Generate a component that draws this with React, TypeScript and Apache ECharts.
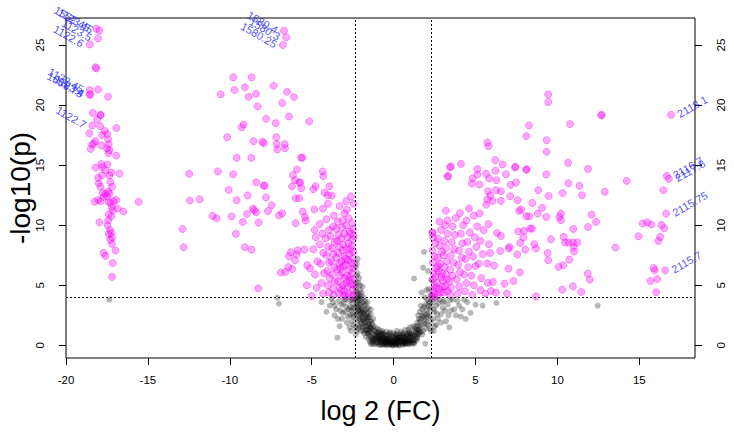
import React, { useEffect, useRef } from "react";
import * as echarts from "echarts";

const FONT = "'Liberation Sans', Arial, Helvetica, sans-serif";

const xTicks = [-20, -15, -10, -5, 0, 5, 10, 15];
const yTicks = [0, 5, 10, 15, 20, 25];
const fcCut = 2.32;
const pCut = 4;

// far-left group (log2 FC around -18)
const leftFar = [
  [-18.2, 23.15], [-18.15, 23.05], [-18.04, 21.3], [-17.43, 20.7], [-18.37, 19.35], [-17.9, 19.2], [-17.88, 19.15],
  [-18.1, 18.8], [-16.92, 18.1], [-17.92, 18.25], [-17.63, 17.85], [-17.49, 17.6], [-17.8, 17.5], [-18.57, 17.65],
  [-18.2, 17.0], [-18.41, 16.7], [-18.49, 16.35], [-18.3, 16.8], [-17.43, 17.15], [-17.39, 16.75], [-17.84, 16.65],
  [-17.49, 16.4], [-17.35, 16.25], [-17.41, 16.0], [-16.94, 15.8], [-17.84, 15.1], [-17.8, 14.85], [-18.2, 14.8],
  [-17.6, 14.6], [-17.47, 15.05], [-16.74, 14.3], [-17.23, 14.4], [-17.35, 14.15], [-17.8, 14.15], [-18.04, 13.95],
  [-17.29, 13.6], [-18.0, 13.5], [-17.9, 13.2], [-17.19, 13.2], [-17.76, 12.7], [-17.6, 12.6], [-17.43, 12.8],
  [-17.35, 12.65], [-17.7, 12.35], [-17.49, 12.4], [-18.25, 11.95], [-18.04, 12.1], [-17.88, 12.0], [-17.39, 11.95],
  [-17.29, 11.85], [-17.09, 12.0], [-16.94, 12.1], [-17.19, 11.5], [-16.86, 11.4], [-17.15, 11.25], [-16.5, 11.15],
  [-15.56, 11.95], [-17.39, 10.9], [-17.23, 10.75], [-17.43, 10.4], [-17.96, 10.25], [-17.47, 10.0], [-17.31, 9.6],
  [-17.25, 9.35], [-17.39, 9.25], [-17.19, 9.0], [-17.29, 8.8], [-17.19, 8.45], [-16.98, 7.9], [-17.7, 7.7],
  [-17.6, 7.45], [-17.15, 6.85], [-17.19, 5.7],
];

// scattered group between -13 and -4
const leftMid = [
  [-9.79, 22.31], [-8.67, 22.31], [-10.56, 20.89], [-9.71, 21.25], [-9.08, 21.48], [-8.85, 20.69], [-8.4, 20.94],
  [-7.32, 21.61], [-6.51, 21.11], [-6.08, 20.67], [-6.8, 20.17], [-8.3, 19.89], [-7.78, 18.86], [-7.2, 18.5],
  [-6.39, 19.06], [-5.15, 18.64], [-9.16, 18.39], [-9.28, 18.14], [-10.16, 17.33], [-8.55, 17.0], [-8.0, 16.94],
  [-7.93, 16.83], [-7.16, 17.33], [-7.14, 16.75], [-7.1, 16.31], [-6.65, 16.75], [-6.63, 16.42], [-9.58, 15.61],
  [-8.69, 15.61], [-5.65, 15.61], [-12.48, 14.28], [-10.73, 14.48], [-9.79, 14.25], [-5.9, 14.64], [-6.14, 14.17],
  [-6.02, 13.75], [-5.76, 13.58], [-5.7, 13.53], [-6.2, 13.23], [-5.64, 13.08], [-8.39, 13.58], [-7.93, 13.31],
  [-7.87, 13.28], [-10.07, 12.94], [-8.91, 12.48], [-7.79, 12.31], [-9.58, 12.08], [-7.44, 11.67], [-12.44, 12.06],
  [-11.83, 12.17], [-5.98, 12.25], [-5.76, 12.25], [-8.59, 11.39], [-8.51, 11.25], [-8.39, 11.08], [-8.95, 10.94],
  [-7.67, 11.19], [-11.05, 10.78], [-10.81, 10.58], [-9.89, 10.73], [-7.0, 10.81], [-6.8, 11.0], [-5.55, 11.14],
  [-5.41, 10.69], [-5.37, 10.39], [-9.2, 10.28], [-8.24, 10.22], [-5.98, 10.17], [-12.89, 9.69], [-9.63, 9.28],
  [-12.82, 8.17], [-9.08, 8.17], [-8.67, 7.97], [-8.26, 4.75], [-6.39, 7.42], [-6.28, 7.75], [-5.86, 7.92],
  [-5.45, 7.97], [-5.92, 7.58], [-6.02, 7.08], [-6.88, 6.06], [-6.61, 6.11], [-6.43, 6.53], [-6.19, 6.36],
  [-5.27, 6.67], [-4.84, 11.31], [-4.31, 11.39], [-4.82, 9.61], [-4.33, 14.48], [-4.29, 14.08], [-3.92, 13.25],
  [-4.21, 12.73], [-4.02, 12.5], [-3.78, 12.48], [-4.76, 13.25], [-4.9, 13.0], [-5.57, 15.64],
];

// dense group just left of the fold-change cut
const leftNear = [
  [-2.45, 4.2], [-2.5, 4.6], [-2.6, 5.1], [-2.48, 5.5], [-2.55, 6.0], [-2.47, 6.4], [-2.6, 6.9], [-2.5, 7.3],
  [-2.45, 7.8], [-2.55, 8.3], [-2.5, 8.8], [-2.6, 9.3], [-2.48, 9.7], [-2.52, 10.2], [-2.75, 4.3], [-2.8, 4.9],
  [-2.7, 5.4], [-2.85, 5.8], [-2.72, 6.3], [-2.9, 6.7], [-2.78, 7.1], [-2.7, 7.6], [-2.88, 8.0], [-2.76, 8.5],
  [-2.82, 9.0], [-2.7, 9.5], [-2.9, 10.0], [-2.75, 10.6], [-2.85, 11.3], [-3.05, 4.1], [-3.0, 4.5], [-3.1, 5.0],
  [-2.98, 5.6], [-3.15, 6.1], [-3.05, 6.6], [-3.2, 7.0], [-3.0, 7.4], [-3.12, 7.9], [-3.08, 8.4], [-3.2, 8.9],
  [-3.02, 9.3], [-3.15, 9.8], [-3.1, 10.4], [-3.0, 11.0], [-3.35, 4.3], [-3.3, 4.8], [-3.4, 5.3], [-3.28, 5.8],
  [-3.45, 6.3], [-3.32, 6.8], [-3.5, 7.3], [-3.38, 7.7], [-3.3, 8.2], [-3.45, 8.7], [-3.36, 9.2], [-3.5, 9.7],
  [-3.4, 10.3], [-3.3, 11.6], [-3.65, 4.2], [-3.7, 4.7], [-3.6, 5.3], [-3.75, 5.9], [-3.62, 6.5], [-3.8, 7.0],
  [-3.68, 7.6], [-3.75, 8.1], [-3.6, 8.6], [-3.85, 9.1], [-3.7, 9.9], [-3.65, 10.8], [-3.95, 4.4], [-4.0, 5.0],
  [-3.9, 5.6], [-4.05, 6.2], [-3.95, 6.9], [-4.1, 7.5], [-4.0, 8.2], [-4.15, 8.9], [-3.95, 9.6], [-4.1, 10.5],
  [-4.0, 11.8], [-4.3, 4.3], [-4.4, 5.2], [-4.25, 6.0], [-4.45, 6.8], [-4.3, 7.7], [-4.5, 8.4], [-4.35, 9.3],
  [-4.5, 10.1], [-4.7, 4.8], [-4.8, 5.9], [-4.65, 7.0], [-4.9, 8.0], [-4.75, 9.0], [-5.0, 4.1], [-5.1, 6.4],
  [-5.3, 5.0], [-2.45, 11.8], [-2.6, 12.4], [-2.9, 12.0], [-2.55, 4.05], [-2.42, 5.0], [-2.65, 5.7],
  [-2.42, 6.8], [-2.65, 8.0], [-2.42, 9.1], [-2.95, 4.2], [-3.2, 4.6], [-2.9, 5.2], [-3.25, 6.4], [-2.95, 7.2],
];

// dense group just right of the fold-change cut
const rightNear = [
  [2.35, 4.1], [2.4, 4.6], [2.5, 5.0], [2.38, 5.5], [2.45, 6.0], [2.6, 6.4], [2.4, 6.9], [2.5, 7.4], [2.37, 7.9],
  [2.55, 8.5], [2.42, 9.0], [2.37, 9.4], [2.7, 4.2], [2.8, 4.7], [2.65, 5.2], [2.9, 5.7], [2.75, 6.2], [2.85, 6.8],
  [2.7, 7.3], [2.95, 7.8], [2.8, 8.3], [2.7, 8.9], [2.9, 9.6], [2.8, 10.3], [3.05, 4.4], [3.15, 4.9], [3.0, 5.4],
  [3.2, 5.9], [3.1, 6.5], [3.25, 7.0], [3.05, 7.5], [3.2, 8.1], [3.1, 8.7], [3.3, 9.3], [3.19, 11.2], [3.29, 10.4],
  [3.15, 10.0], [3.45, 4.2], [3.5, 4.8], [3.4, 5.3], [3.6, 5.8], [3.45, 6.3], [3.65, 6.9], [3.5, 7.5], [3.7, 8.0],
  [3.55, 8.6], [3.75, 9.2], [3.6, 9.9], [3.8, 10.6], [3.9, 4.3], [4.0, 4.9], [3.85, 5.5], [4.05, 6.1], [3.95, 6.7],
  [4.15, 7.3], [4.0, 7.9], [4.2, 8.5], [4.1, 9.3], [4.25, 10.0], [4.05, 11.0], [4.35, 4.5], [4.45, 5.2], [4.3, 5.9],
  [4.55, 6.5], [4.4, 7.2], [4.6, 7.8], [4.5, 8.6], [4.65, 9.4], [4.45, 10.4], [4.6, 11.4], [4.8, 4.2], [4.9, 5.0],
  [4.75, 5.8], [5.0, 6.6], [4.85, 7.4], [5.05, 8.2], [4.95, 9.0], [5.1, 9.9], [4.9, 10.8], [5.3, 4.6], [5.35, 5.6],
  [5.2, 6.8], [5.45, 7.6], [5.3, 8.7], [5.5, 9.6], [5.25, 11.0], [5.6, 4.3], [5.75, 5.2], [5.8, 10.1], [5.65, 11.7],
  [2.37, 9.36], [3.5, 14.9], [3.29, 14.1], [2.45, 4.35], [2.6, 4.8], [2.55, 5.7], [2.7, 6.6], [2.5, 4.0],
  [2.85, 4.4], [3.0, 4.9], [3.3, 4.5], [3.25, 5.5], [2.95, 6.0],
];

// scattered group on the right, 3 to 17
const rightFar = [
  [9.44, 20.89], [9.44, 20.25], [12.68, 19.14], [12.7, 19.2], [8.26, 18.31], [8.1, 17.42], [10.77, 18.42],
  [9.34, 17.08], [9.34, 16.11], [5.73, 16.89], [5.79, 16.58], [6.2, 15.42], [6.65, 15.06], [7.44, 14.86],
  [8.1, 14.64], [9.32, 14.22], [10.65, 15.19], [11.87, 14.69], [14.23, 13.69], [12.89, 12.78], [11.5, 12.5],
  [11.34, 13.28], [10.67, 13.5], [10.32, 12.69], [8.83, 12.92], [9.46, 12.44], [3.33, 14.06], [3.45, 14.81],
  [4.11, 15.11], [5.12, 14.67], [4.82, 13.89], [4.78, 13.47], [5.12, 14.22], [5.24, 13.39], [5.64, 14.28],
  [5.84, 13.89], [6.28, 13.75], [6.22, 14.53], [6.86, 14.25], [7.41, 14.81], [7.14, 13.36], [7.47, 13.56],
  [8.12, 14.64], [6.25, 12.92], [6.55, 12.83], [5.76, 12.83], [5.9, 12.48], [5.73, 12.14], [6.04, 12.03],
  [7.12, 12.42], [6.55, 12.03], [7.57, 12.08], [7.67, 11.19], [7.78, 11.31], [8.47, 11.86], [9.06, 11.44],
  [8.79, 10.97], [9.32, 10.69], [8.1, 10.75], [8.28, 10.75], [8.45, 9.72], [8.33, 9.72], [10.22, 10.97],
  [10.22, 10.42], [10.12, 10.69], [12.09, 10.89], [12.36, 10.28], [11.87, 9.86], [10.97, 9.69], [10.38, 9.03],
  [10.46, 8.56], [10.68, 8.56], [10.95, 8.56], [11.22, 8.56], [10.99, 8.19], [11.01, 7.81], [10.73, 7.14],
  [10.36, 6.67], [10.07, 6.53], [9.61, 8.83], [9.4, 7.69], [9.44, 7.08], [8.59, 8.42], [8.69, 8.06], [7.96, 9.53],
  [7.92, 8.98], [7.73, 8.53], [8.04, 7.97], [7.61, 9.48], [7.08, 8.19], [7.02, 8.06], [7.55, 7.56], [7.71, 6.08],
  [7.32, 5.36], [6.77, 5.14], [7.02, 6.39], [6.51, 7.86], [6.31, 9.36], [6.55, 9.11], [5.82, 8.42], [5.9, 7.69],
  [5.72, 6.81], [6.14, 6.64], [6.06, 5.28], [5.94, 4.53], [6.25, 4.39], [6.92, 4.31], [8.69, 4.08], [10.3, 4.64],
  [10.95, 4.92], [11.46, 4.44], [11.85, 5.97], [11.97, 5.47], [13.54, 8.14], [15.21, 10.14], [15.48, 10.25],
  [15.74, 10.06], [16.35, 10.03], [16.52, 9.75], [14.95, 9.08], [16.27, 9.03], [16.17, 8.69], [15.88, 6.44],
  [15.94, 6.25], [15.68, 5.36], [16.09, 5.53], [16.03, 4.42], [16.47, 12.92],
];

// non-significant genes
const grey = [
  [-1.2, 0.9], [-1.1, 0.6], [-1.0, 0.4], [-0.9, 0.7], [-0.8, 0.3], [-0.7, 0.5], [-0.6, 0.2], [-0.5, 0.4], [-0.4, 0.1],
  [-0.3, 0.3], [-0.2, 0.15], [-0.1, 0.05], [0, 0.2], [0.1, 0.1], [0.2, 0.3], [0.3, 0.05], [0.4, 0.25], [0.5, 0.15],
  [0.6, 0.4], [0.7, 0.2], [0.8, 0.5], [0.9, 0.3], [1.0, 0.6], [1.1, 0.4], [1.2, 0.8], [-1.15, 1.2], [-0.95, 1.0],
  [-0.75, 0.9], [-0.55, 0.7], [-0.35, 0.6], [-0.15, 0.5], [0.05, 0.45], [0.25, 0.55], [0.45, 0.6], [0.65, 0.75],
  [0.85, 0.9], [1.05, 1.0], [1.25, 1.2], [-0.85, 0.1], [-0.65, 0.05], [-0.45, 0.0], [-0.25, 0.02], [-0.05, 0.0],
  [0.15, 0.02], [0.35, 0.0], [0.55, 0.05], [0.75, 0.1], [0.95, 0.15], [-1.3, 0.4], [-1.4, 0.7], [-1.35, 1.0],
  [1.3, 0.5], [1.4, 0.9], [-0.6, 0.95], [-0.3, 0.85], [0.0, 0.75], [0.3, 0.85], [0.6, 1.0], [-0.9, 1.3], [0.9, 1.3],
  [-0.45, 1.15], [0.45, 1.15], [-1.05, 0.2], [-0.95, 0.55], [-0.7, 0.15], [-0.5, 0.55], [-0.2, 0.35], [0.1, 0.35],
  [0.35, 0.4], [0.55, 0.3], [0.75, 0.55], [1.0, 0.25], [1.15, 0.65], [-1.25, 0.65], [-0.8, 0.6], [-0.35, 0.2],
  [0.2, 0.15], [0.65, 0.1], [0.85, 0.7], [-1.0, 0.85], [-0.25, 0.65], [0.4, 0.7],
  [-1.1, 0.1], [-0.9, 0.45], [-0.7, 0.75], [-0.5, 0.1], [-0.3, 0.45], [-0.1, 0.3], [0.1, 0.6], [0.3, 0.25],
  [0.5, 0.45], [0.7, 0.35], [0.9, 0.55], [1.1, 0.15], [-1.2, 0.3], [-0.8, 1.1], [-0.4, 0.9], [0.0, 0.05],
  [0.2, 0.95], [0.6, 0.65], [1.0, 0.85], [1.2, 0.45], [-1.3, 1.3], [-0.6, 0.45], [0.8, 0.2], [-0.15, 0.15],
  [0.05, 0.15], [0.25, 0.4], [-0.55, 0.25], [-0.75, 0.35], [0.95, 1.1], [-1.05, 1.05],
  [-1.45, 0.3], [-1.35, 0.55], [-1.25, 0.1], [-1.15, 0.45], [-1.05, 0.7], [-0.95, 0.25], [-0.85, 0.85],
  [-0.75, 0.05], [-0.65, 0.6], [-0.55, 0.1], [-0.45, 0.8], [-0.35, 0.35], [-0.25, 1.0], [-0.15, 0.25],
  [-0.05, 0.6], [0.05, 0.3], [0.15, 0.8], [0.25, 0.1], [0.35, 0.7], [0.45, 0.35], [0.55, 0.9], [0.65, 0.45],
  [0.75, 0.8], [0.85, 0.4], [0.95, 1.0], [1.05, 0.45], [1.15, 0.9], [1.25, 0.3], [1.35, 1.1], [1.45, 0.6],
  [-1.4, 1.5], [-1.2, 1.6], [-1.0, 1.4], [-0.7, 1.2], [-0.2, 1.1], [0.2, 1.2], [0.7, 1.3], [1.0, 1.5],
  [1.2, 1.6], [1.5, 1.3],
  [-1.3, 0.2], [-1.2, 0.55], [-1.1, 0.85], [-1.0, 1.1], [-0.9, 0.05], [-0.8, 0.45], [-0.7, 0.95], [-0.6, 0.6],
  [-0.5, 0.25], [-0.4, 0.5], [-0.3, 0.1], [-0.2, 0.55], [-0.1, 0.8], [0.0, 0.4], [0.1, 0.9], [0.2, 0.5],
  [0.3, 0.65], [0.4, 0.45], [0.5, 0.75], [0.6, 0.2], [0.7, 0.6], [0.8, 0.95], [0.9, 0.1], [1.0, 0.4],
  [1.1, 0.75], [1.2, 0.2], [1.3, 0.8], [1.4, 0.4], [-1.4, 0.1], [-1.5, 0.8], [1.5, 0.9], [-0.65, 1.05],
  [-0.05, 1.0], [0.45, 0.95], [-1.25, 1.45], [1.3, 1.4], [-0.85, 0.6], [0.15, 0.6], [-0.45, 0.5], [0.65, 0.3],
  [-1.6, 1.0], [1.6, 1.1], [-1.7, 1.3], [-1.55, 1.7], [-1.65, 2.4], [-1.85, 1.6], [-1.9, 2.3], [-2.05, 2.2],
  [-2.1, 2.9], [-2.15, 3.7], [-1.95, 3.2], [-2.0, 2.6],
  [-1.5, 1.2], [-1.6, 1.6], [-1.45, 2.0], [-1.7, 2.3], [-1.55, 2.7], [-1.8, 1.0], [-1.9, 1.5], [-1.75, 1.9],
  [-1.85, 2.6], [-1.65, 3.0], [-2.0, 2.0], [-2.1, 2.5], [-1.95, 3.0], [-2.05, 3.4], [-2.2, 2.9], [-2.25, 3.6],
  [-2.1, 3.9], [-1.9, 3.6], [-2.2, 4.3], [-2.3, 4.8], [-2.15, 5.2], [-2.25, 5.8], [-2.05, 4.6], [-2.3, 6.5],
  [-2.2, 7.2], [-1.95, 4.4], [-1.8, 3.3], [-1.6, 3.6], [-1.4, 2.6], [-1.3, 1.8], [-1.25, 2.2], [-2.0, 1.2],
  [-2.2, 1.7], [-2.3, 2.2], [-1.7, 0.7], [-2.35, 3.1], [-1.5, 0.5], [-2.3, 0.9], [-1.6, 1.3], [-1.7, 1.6],
  [-1.4, 1.4], [-1.55, 2.3], [-1.85, 2.1], [-2.15, 1.4], [-1.95, 2.4], [-2.25, 2.6], [-2.3, 5.3], [-2.1, 4.1],
  [-2.28, 4.0], [-1.75, 2.9], [-1.5, 1.8], [-1.65, 2.0], [-1.8, 2.7], [-2.0, 2.8], [-2.15, 3.2], [-1.7, 3.4],
  [-1.45, 1.5], [-1.35, 2.0], [-1.55, 1.0], [-2.25, 4.5], [-2.05, 5.0], [-2.2, 6.0],
  [-2.35, 1.5], [-2.3, 2.7], [-2.35, 3.8], [-2.32, 4.4], [-2.2, 3.4], [-2.15, 2.1], [-2.05, 1.6], [-2.1, 3.0],
  [-2.0, 3.7], [-1.9, 2.8], [-1.85, 1.2], [-1.8, 2.0], [-1.75, 3.7], [-1.7, 1.2], [-1.65, 2.6], [-1.6, 2.2],
  [-1.55, 3.1], [-1.5, 2.4], [-1.45, 1.1], [-1.4, 3.0], [-2.25, 1.2], [-2.15, 4.0], [-1.95, 1.8], [-2.35, 5.0],
  [-2.25, 6.8], [-2.1, 5.6], [-1.9, 4.9], [-2.3, 3.3], [-2.0, 4.2], [-1.85, 4.0],
  [-2.5, 3.5], [-2.6, 2.9], [-2.7, 3.7], [-2.8, 2.4], [-2.9, 3.2], [-3.0, 3.8], [-3.1, 2.7], [-3.2, 3.4],
  [-3.4, 2.2], [-3.5, 3.0], [-3.7, 3.6], [-3.6, 2.5], [-3.9, 3.3], [-4.1, 2.8], [-2.55, 2.0], [-2.7, 1.5],
  [-3.3, 1.6], [-3.43, 0.64], [-2.45, 3.9], [-3.8, 3.9], [-4.4, 3.6], [-2.5, 2.6], [-2.65, 3.2],
  [-2.45, 2.4], [-2.5, 3.1], [-2.6, 1.2], [-2.65, 2.5], [-2.75, 3.0], [-2.85, 1.9], [-2.95, 2.8], [-3.05, 3.5],
  [-3.15, 2.2], [-3.25, 2.9], [-3.35, 3.7], [-2.55, 3.8], [-2.45, 1.7], [-2.9, 3.9], [-3.6, 3.3],
  [1.5, 1.0], [1.6, 1.5], [1.45, 1.9], [1.7, 2.2], [1.8, 1.2], [1.9, 2.6], [1.75, 3.0], [2.0, 1.8], [2.1, 2.4],
  [1.95, 3.4], [2.2, 3.0], [2.05, 3.8], [2.25, 4.2], [2.15, 4.7], [1.86, 7.78], [1.25, 5.56], [1.8, 6.47],
  [1.93, 0.14], [1.25, 0.14], [2.3, 5.4], [1.6, 2.8], [1.35, 1.6], [2.2, 1.4], [2.28, 2.0], [2.1, 6.2], [1.7, 4.4],
  [1.5, 1.6], [1.65, 1.1], [1.85, 1.8], [2.0, 2.9], [1.4, 1.3], [1.55, 2.2], [1.75, 2.5], [2.1, 3.3],
  [2.25, 3.6], [1.9, 2.1],
  [1.45, 0.7], [1.55, 1.3], [1.6, 2.0], [1.7, 1.7], [1.75, 0.9], [1.8, 2.4], [1.85, 3.2], [1.95, 1.4],
  [2.0, 2.2], [2.05, 2.6], [2.1, 1.7], [2.15, 3.6], [2.2, 2.5], [2.25, 3.2], [2.3, 4.0], [1.65, 3.3],
  [1.9, 4.0], [2.0, 4.6], [2.28, 1.2], [1.5, 2.5],
  [2.4, 3.6], [2.5, 2.8], [2.6, 3.3], [2.7, 2.2], [2.8, 3.8], [2.9, 2.6], [3.0, 3.1], [3.1, 3.7], [3.2, 2.0],
  [3.3, 3.4], [3.5, 2.9], [3.6, 3.8], [3.8, 2.5], [4.0, 3.3], [4.2, 3.0], [4.5, 3.6], [4.7, 2.7], [5.0, 3.4],
  [5.43, 3.31], [6.28, 3.53], [12.46, 3.31], [2.45, 1.2], [2.6, 1.7], [3.4, 1.5], [4.4, 2.2],
  [2.4, 2.2], [2.45, 3.0], [2.55, 3.9], [2.65, 2.6], [2.75, 3.5], [2.9, 1.9], [3.0, 3.6], [3.15, 2.9],
  [3.35, 2.5], [3.45, 3.8], [3.7, 3.0], [3.9, 3.7], [4.1, 2.4], [4.3, 3.8], [2.5, 1.6],
  [-17.35, 3.8], [-7.1, 3.97], [-7.0, 3.47],
];

// annotated genes
const leftLabelNames = ["1552.45", "1123.45", "1123.5", "1122.6", "1122.45", "1123.4", "1666.78", "1122.7", "1580.4", "1580.3", "1580.25"];
const leftLabelX = [-18.15, -17.96, -18.04, -18.55, -18.55, -18.5, -18.57, -18.39, -6.69, -6.55, -6.75];
const leftLabelY = [26.35, 26.2, 25.55, 25.05, 21.25, 20.9, 20.85, 18.3, 26.19, 25.64, 25.0];
const rightLabelNames = ["2118.1", "2116.7", "2117.8", "2115.75", "2115.7"];
const rightLabelX = [16.94, 16.68, 16.8, 16.64, 16.58];
const rightLabelY = [19.19, 14.11, 13.86, 10.97, 6.25];

const MAGENTA = "rgba(255,0,255,0.42)";
const MAG_BORDER = "rgba(235,0,235,0.45)";

export default function App() {
  const ref = useRef<HTMLDivElement>(null);
  useEffect(() => {
    if (!ref.current) return;
    const chart = echarts.init(ref.current, null, { renderer: "svg" });
    const sig = [...leftFar, ...leftMid, ...leftNear, ...rightNear, ...rightFar];
    const leftLab = leftLabelNames.map((n, i) => ({ name: n, value: [leftLabelX[i], leftLabelY[i]] }));
    const rightLab = rightLabelNames.map((n, i) => ({ name: n, value: [rightLabelX[i], rightLabelY[i]] }));
    const magStyle = { color: MAGENTA, borderColor: MAG_BORDER, borderWidth: 1 };
    const labelStyle = { show: true, color: "#2222f5", fontSize: 11, fontFamily: FONT, formatter: "{b}" };
    const yAxisBase = {
      type: "value",
      min: -1.05,
      max: 27.25,
      splitLine: { show: false },
      axisLine: { show: false, onZero: false },
      axisTick: { show: true, length: 7, customValues: yTicks, lineStyle: { color: "#000" } },
    };
    chart.setOption({
      animation: false,
      backgroundColor: "#fff",
      grid: {
        left: 66, right: 39, top: 18, bottom: 76,
        show: true, borderColor: "#000", borderWidth: 1,
        containLabel: false, outerBoundsMode: "none",
      },
      xAxis: {
        type: "value",
        min: -20,
        max: 18.4,
        splitLine: { show: false },
        axisLine: { show: false, onZero: false },
        axisTick: { show: true, length: 7, customValues: xTicks, lineStyle: { color: "#000" } },
        axisLabel: { customValues: xTicks, color: "#000", fontSize: 11.5, fontFamily: FONT, margin: 16 },
        name: "log 2 (FC)",
        nameLocation: "middle",
        nameGap: 39,
        nameMoveOverlap: false,
        nameTextStyle: { fontSize: 27, fontFamily: FONT, color: "#000" },
      },
      yAxis: [
        {
          ...yAxisBase,
          position: "left",
          axisLabel: { customValues: yTicks, rotate: 90, color: "#000", fontSize: 11.5, fontFamily: FONT, margin: 20 },
          name: "-log10(p)",
          nameLocation: "middle",
          nameRotate: 90,
          nameGap: 32,
          nameMoveOverlap: false,
          nameTextStyle: { fontSize: 28, fontFamily: FONT, color: "#000" },
        },
        {
          ...yAxisBase,
          position: "right",
          axisLabel: { customValues: yTicks, rotate: 90, color: "#000", fontSize: 11.5, fontFamily: FONT, margin: 20 },
        },
      ],
      series: [
        {
          type: "scatter",
          data: grey,
          symbolSize: 6,
          itemStyle: { color: "rgba(0,0,0,0.35)" },
          z: 2,
        },
        {
          type: "scatter",
          data: sig,
          symbolSize: 7,
          itemStyle: magStyle,
          z: 3,
        },
        {
          type: "scatter",
          data: leftLab,
          symbolSize: 7,
          itemStyle: magStyle,
          label: { ...labelStyle, position: "left", distance: 3, rotate: -30 },
          z: 4,
        },
        {
          type: "scatter",
          data: rightLab,
          symbolSize: 7,
          itemStyle: magStyle,
          label: { ...labelStyle, position: "right", distance: 3, rotate: 30 },
          z: 4,
        },
        {
          type: "scatter",
          data: [],
          z: 5,
          markLine: {
            silent: true,
            symbol: "none",
            label: { show: false },
            lineStyle: { color: "#000", type: [2, 2], width: 1 },
            data: [{ xAxis: -fcCut }, { xAxis: fcCut }, { yAxis: pCut }],
          },
        },
      ],
    });
    return () => chart.dispose();
  }, []);
  return <div ref={ref} style={{ position: "absolute", left: 0, top: 0, width: 734, height: 434 }} />;
}
